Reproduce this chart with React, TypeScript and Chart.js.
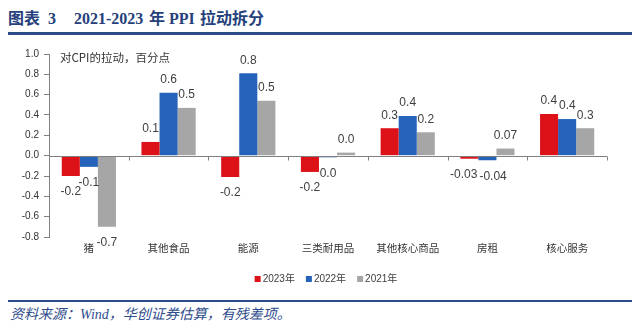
import { useEffect, useRef } from "react";
import { Chart, registerables } from "chart.js";

Chart.register(...registerables);

const categories = ["猪", "其他食品", "能源", "三类耐用品", "其他核心商品", "房租", "核心服务"];
const seriesNames = ["2023年", "2022年", "2021年"];
const seriesColors = ["#DC1218", "#2563BB", "#A6A6A6"];
const values2023 = [-0.2, 0.135, -0.21, -0.16, 0.27, -0.03, 0.41];
const values2022 = [-0.11, 0.62, 0.81, -0.016, 0.39, -0.045, 0.36];
const values2021 = [-0.7, 0.47, 0.54, 0.03, 0.23, 0.07, 0.27];
const labels2023 = ["-0.2", "0.1", "-0.2", "-0.2", "0.3", "-0.03", "0.4"];
const labels2022 = ["-0.1", "0.6", "0.8", "0.0", "0.4", "-0.04", "0.4"];
const labels2021 = ["-0.7", "0.5", "0.5", "0.0", "0.2", "0.07", "0.3"];
const yMin = -0.8;
const yMax = 1.0;
const yStep = 0.2;
const annotationText = "对CPI的拉动，百分点";
const titleParts = ["图表", "3", "2021-2023", "年", "PPI", "拉动拆分"];
const sourceText = "资料来源：Wind，华创证券估算，有残差项。";

const valueSets = [values2023, values2022, values2021];
const labelSets = [labels2023, labels2022, labels2021];

const overlayPlugin = {
  id: "overlay",
  afterDatasetsDraw(chart: any) {
    const ctx = chart.ctx;
    const { left, right, top, bottom } = chart.chartArea;
    const y0 = Math.round(chart.scales.y.getPixelForValue(0)) + 0.5;
    ctx.save();
    ctx.strokeStyle = "#808080";
    ctx.lineWidth = 1;
    ctx.beginPath();
    ctx.moveTo(left, y0);
    ctx.lineTo(right, y0);
    const n = categories.length;
    const w = (right - left) / n;
    for (let i = 1; i <= n; i++) {
      const x = Math.round(left + i * w) + 0.5;
      ctx.moveTo(x, y0);
      ctx.lineTo(x, y0 + 4);
    }
    ctx.stroke();

    // annotation
    ctx.fillStyle = "#333333";
    ctx.font = '11.5px "Noto Sans CJK SC"';
    ctx.textAlign = "left";
    ctx.textBaseline = "middle";
    ctx.fillText(annotationText, left + 11, top + 4);

    // data labels with simple collision avoidance
    ctx.font = '12px "Liberation Sans"';
    ctx.fillStyle = "#404040";
    ctx.textAlign = "center";
    for (let i = 0; i < n; i++) {
      const items = chart.data.datasets.map((ds: any, di: number) => {
        const bar = chart.getDatasetMeta(di).data[i];
        const v = ds.data[i];
        const text = labelSets[di][i];
        return {
          text,
          x: bar.x,
          y: v >= 0 ? bar.y - 13 : bar.y + 16,
          w: ctx.measureText(text).width,
        };
      });
      for (let k = 0; k < items.length - 1; k++) {
        const a = items[k];
        const b = items[k + 1];
        if (Math.abs(a.y - b.y) < 8) {
          const overlap = a.w / 2 + b.w / 2 + 2 - (b.x - a.x);
          if (overlap > 0) {
            a.x -= overlap / 2;
            b.x += overlap / 2;
          }
        }
      }
      items.forEach((it: any) => ctx.fillText(it.text, it.x, it.y));
    }

    // legend
    ctx.font = '10px "Liberation Sans", "Noto Sans CJK SC"';
    ctx.textAlign = "left";
    const box = 6;
    const gapBox = 2;
    const gapItem = 11;
    const widths = seriesNames.map((s) => ctx.measureText(s).width);
    const total = widths.reduce((acc, tw) => acc + box + gapBox + tw, 0) + gapItem * (seriesNames.length - 1);
    let lx = (chart.width - total) / 2 + 6;
    const ly = bottom + 42;
    seriesNames.forEach((s, di) => {
      ctx.fillStyle = seriesColors[di];
      ctx.fillRect(lx, ly - box / 2, box, box);
      lx += box + gapBox;
      ctx.fillStyle = "#404040";
      ctx.fillText(s, lx, ly);
      lx += widths[di] + gapItem;
    });
    ctx.restore();
  },
};

export default function App() {
  const ref = useRef<HTMLCanvasElement>(null);
  useEffect(() => {
    const chart = new Chart(ref.current as HTMLCanvasElement, {
      type: "bar",
      data: {
        labels: categories,
        datasets: seriesNames.map((name, i) => ({
          label: name,
          data: valueSets[i],
          backgroundColor: seriesColors[i],
          borderWidth: 0,
          barPercentage: 1,
          categoryPercentage: 0.68,
        })),
      },
      options: {
        animation: false,
        responsive: false,
        layout: { padding: { left: 0, right: 25, top: 16, bottom: 34 } },
        plugins: {
          legend: { display: false },
          tooltip: { enabled: false },
        },
        scales: {
          x: {
            grid: { display: false, drawTicks: false },
            border: { display: false },
            ticks: {
              color: "#333333",
              font: { size: 10.5, family: '"Noto Sans CJK SC"' },
              padding: 5,
              maxRotation: 0,
              autoSkip: false,
            },
            afterFit: (s: any) => {
              s.height = 25;
            },
          },
          y: {
            min: yMin,
            max: yMax,
            ticks: {
              stepSize: yStep,
              color: "#333333",
              font: { size: 10, family: '"Liberation Sans"' },
              padding: 5,
              callback: (v: any) => (Math.abs(Number(v)) < 1e-9 ? "0.0" : Number(v).toFixed(1)),
            },
            grid: { drawOnChartArea: false, drawTicks: true, tickLength: 5, color: "#808080" },
            border: { color: "#808080" },
            afterFit: (s: any) => {
              s.width = 41;
            },
          },
        },
      },
      plugins: [overlayPlugin],
    } as any);
    return () => chart.destroy();
  }, []);

  const titleLefts = [0, 40, 66, 141, 161, 192];
  const titleStyle = {
    position: "absolute" as const,
    top: 1,
    fontSize: 16,
    fontWeight: "bold" as const,
    color: "#25407A",
    fontFamily: '"Liberation Serif", "Noto Sans CJK SC", serif',
    whiteSpace: "pre" as const,
    lineHeight: "20px",
  };

  return (
    <div style={{ position: "relative", width: 624, height: 315 }}>
      {titleParts.map((t, i) => (
        <span key={i} style={{ ...titleStyle, left: titleLefts[i] }}>
          {t}
        </span>
      ))}
      <div style={{ position: "absolute", left: 0, top: 24, width: 624, height: 3, background: "#2E4C8C" }} />
      <div style={{ position: "absolute", left: 0, top: 30, width: 624, height: 258 }}>
        <canvas ref={ref} width={624} height={258} style={{ display: "block" }} />
      </div>
      <div style={{ position: "absolute", left: 0, top: 292, width: 624, height: 2, background: "#2E4C8C" }} />
      <div
        style={{
          position: "absolute",
          left: 2,
          top: 299,
          fontSize: 14,
          fontStyle: "italic",
          color: "#2E4C8C",
          fontFamily: '"Liberation Serif", "Noto Sans CJK SC", serif',
          lineHeight: "16px",
          whiteSpace: "pre",
        }}
      >
        {sourceText}
      </div>
    </div>
  );
}
